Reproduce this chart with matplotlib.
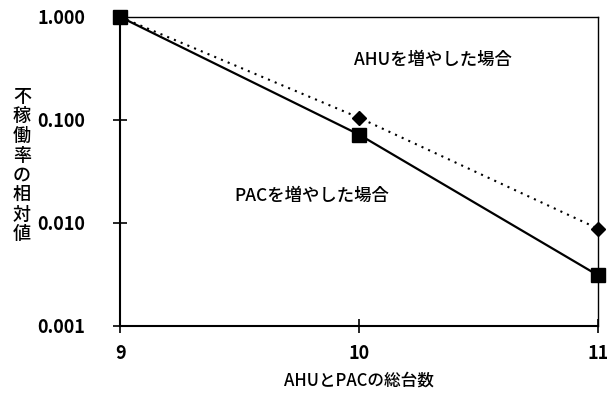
import matplotlib.pyplot as plt

plt.rcParams['font.family'] = ['Noto Sans CJK JP', 'DejaVu Sans']

# Data
units = [9, 10, 11]
ahu_rate = [1.0, 0.105, 0.0088]
pac_rate = [1.0, 0.072, 0.0031]
y_ticks = [0.001, 0.01, 0.1, 1.0]
y_labels = ["0.001", "0.010", "0.100", "1.000"]

fig = plt.figure(figsize=(6.07, 3.94), dpi=100)
ax = fig.add_axes([0.198, 0.173, 0.787, 0.784])

ax.plot(units, ahu_rate, color='black', linestyle=(0, (1, 2.5)), linewidth=1.5,
        marker='D', markersize=7, zorder=3, clip_on=False)
ax.plot(units, pac_rate, color='black', linestyle='-', linewidth=1.6,
        marker='s', markersize=10, zorder=4, clip_on=False)

ax.set_yscale('log')
ax.set_ylim(0.001, 1.0)
ax.set_xlim(9, 11)
ax.set_yticks(y_ticks)
ax.set_yticklabels(y_labels)
ax.minorticks_off()
ax.set_xticks(units)
ax.set_xticklabels([str(u) for u in units])

ax.tick_params(axis='both', direction='inout', length=10, width=1.2,
               labelsize=13)
ax.tick_params(axis='x', pad=8)
ax.tick_params(axis='y', pad=20)
for lab in ax.get_xticklabels() + ax.get_yticklabels():
    lab.set_fontweight('bold')

for side in ['top', 'right']:
    ax.spines[side].set_linestyle((0, (1, 1)))
    ax.spines[side].set_linewidth(1.0)
for side in ['left', 'bottom']:
    ax.spines[side].set_linewidth(1.5)

ax.text(9.98, 0.34, "AHUを増やした場合", fontsize=12.5, fontweight='medium')
ax.text(9.48, 0.0165, "PACを増やした場合", fontsize=12.5, fontweight='medium')

fig.text(0.036, 0.58, "\n".join("不稼働率の相対値"), fontsize=13,
         ha='center', va='center', linespacing=1.12, fontweight='medium')
ax.set_xlabel("AHUとPACの総台数", fontsize=12, labelpad=6, fontweight='medium')

fig.savefig("out.png", dpi=100)
